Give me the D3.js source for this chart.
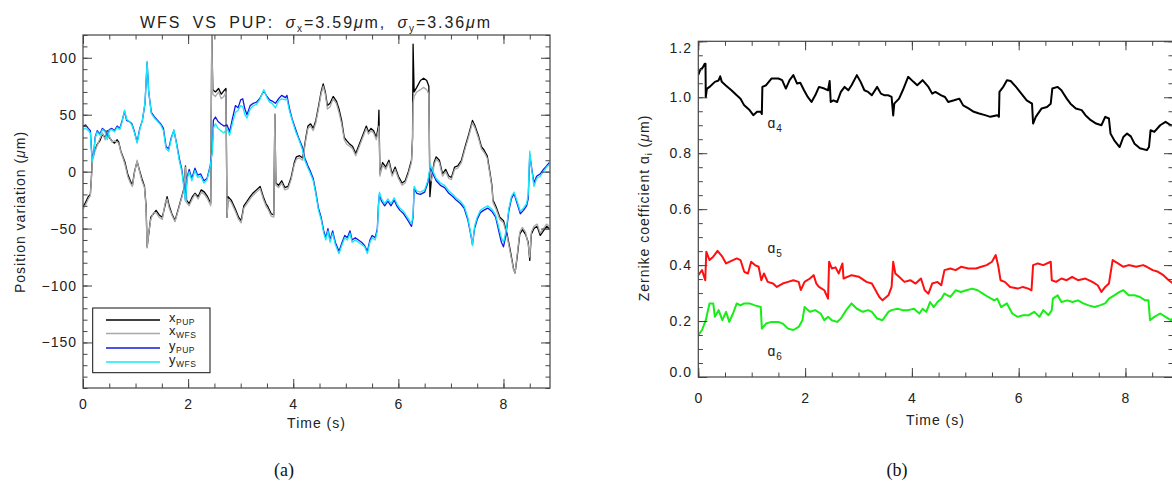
<!DOCTYPE html>
<html><head><meta charset="utf-8">
<script src="https://cdn.jsdelivr.net/npm/d3@7"></script>
<style>
body{margin:0;background:#fff;}
svg{display:block;font-family:"Liberation Sans",Arial,sans-serif;}
.lbl{font-size:14px;letter-spacing:1px;fill:#222;}
</style></head><body>
<svg id="c" width="1172" height="482"></svg>
<script>
// ---------- tick labels ----------
const xTicksA = [0, 2, 4, 6, 8];
const yTicksA = [-150, -100, -50, 0, 50, 100];
const xTicksB = [0, 2, 4, 6, 8];
const yTicksB = [0, 0.2, 0.4, 0.6, 0.8, 1.0, 1.2];
const legendNames = [["x", "PUP"], ["x", "WFS"], ["y", "PUP"], ["y", "WFS"]];
const zernikeNames = [["ɑ", "4"], ["ɑ", "5"], ["ɑ", "6"]];

// ---------- panel (a) series: [time s, position µm] ----------
const xPUP = [[0,-31],[0.05,-27],[0.1,-22],[0.14,-20],[0.16,-5],[0.18,13],[0.22,18],[0.27,24],[0.32,27],[0.37,33],[0.42,30],[0.46,36],[0.5,30],[0.55,27],[0.6,25],[0.65,28],[0.68,26],[0.72,18],[0.76,13],[0.8,8],[0.85,-2],[0.9,-8],[0.94,-12],[0.98,0],[1.03,9],[1.07,2],[1.12,-6],[1.17,-13],[1.2,-30],[1.22,-66],[1.25,-55],[1.29,-40],[1.34,-37],[1.39,-34],[1.45,-38],[1.51,-40],[1.56,-30],[1.6,-22],[1.64,-30],[1.69,-37],[1.75,-43],[1.8,-35],[1.86,-25],[1.92,-15],[1.95,5],[1.97,-25],[2.02,-28],[2.08,-22],[2.13,-19],[2.19,-22],[2.25,-16],[2.31,-18],[2.37,-22],[2.43,-28],[2.45,120],[2.47,72],[2.52,70],[2.58,73],[2.63,68],[2.68,71],[2.72,73],[2.74,-40],[2.76,-22],[2.82,-25],[2.9,-33],[2.96,-40],[3.01,-43],[3.06,-30],[3.12,-26],[3.18,-22],[3.23,-19],[3.3,-16],[3.37,-13],[3.43,-22],[3.48,-28],[3.52,-31],[3.58,-37],[3.63,-38],[3.65,50],[3.67,-10],[3.72,-12],[3.78,-8],[3.84,-14],[3.9,-13],[3.96,-5],[4.02,8],[4.06,13],[4.12,14],[4.18,12],[4.24,30],[4.28,40],[4.33,42],[4.38,38],[4.43,45],[4.48,57],[4.53,70],[4.57,77],[4.61,70],[4.65,58],[4.7,60],[4.76,66],[4.82,62],[4.87,55],[4.92,45],[4.97,30],[5.02,27],[5.08,24],[5.13,22],[5.19,16],[5.24,22],[5.29,28],[5.34,34],[5.39,40],[5.43,35],[5.48,38],[5.53,36],[5.58,30],[5.62,40],[5.63,54],[5.65,-2],[5.7,8],[5.76,4],[5.82,10],[5.88,-2],[5.94,4],[6.0,-4],[6.07,-10],[6.13,-8],[6.19,0],[6.25,10],[6.27,30],[6.28,112],[6.3,70],[6.35,74],[6.42,80],[6.48,82],[6.54,80],[6.58,75],[6.6,-22],[6.63,-6],[6.68,8],[6.72,13],[6.78,10],[6.84,-2],[6.9,2],[6.96,-4],[7.01,-5],[7.07,4],[7.13,5],[7.2,10],[7.27,22],[7.34,33],[7.41,45],[7.46,40],[7.52,32],[7.58,22],[7.63,19],[7.69,14],[7.74,0],[7.78,-12],[7.8,-25],[7.86,-31],[7.93,-40],[8.0,-43],[8.07,-55],[8.14,-72],[8.19,-85],[8.22,-89],[8.26,-75],[8.31,-55],[8.36,-51],[8.42,-55],[8.47,-62],[8.5,-78],[8.53,-55],[8.58,-50],[8.64,-48],[8.7,-56],[8.76,-52],[8.82,-48],[8.87,-50]];
const xWFS = [[0,-33],[0.05,-29],[0.1,-24],[0.14,-21],[0.16,-6],[0.18,12],[0.22,17],[0.27,23],[0.32,29],[0.37,34],[0.42,28],[0.46,35],[0.5,31],[0.55,26],[0.6,27],[0.65,26],[0.68,25],[0.72,17],[0.76,12],[0.8,6],[0.85,-4],[0.9,-10],[0.94,-13],[0.98,-1],[1.03,10],[1.07,1],[1.12,-8],[1.17,-14],[1.2,-32],[1.22,-67],[1.25,-54],[1.29,-42],[1.34,-36],[1.39,-36],[1.45,-40],[1.51,-42],[1.56,-28],[1.6,-24],[1.64,-32],[1.69,-38],[1.75,-44],[1.8,-36],[1.86,-26],[1.92,-16],[1.95,4],[1.97,-27],[2.02,-30],[2.08,-24],[2.13,-20],[2.19,-24],[2.25,-18],[2.31,-20],[2.37,-24],[2.43,-30],[2.45,120],[2.47,68],[2.52,66],[2.58,70],[2.63,64],[2.68,66],[2.72,70],[2.74,-40],[2.76,-24],[2.82,-27],[2.9,-35],[2.96,-42],[3.01,-45],[3.06,-32],[3.12,-28],[3.18,-24],[3.23,-21],[3.3,-18],[3.37,-15],[3.43,-24],[3.48,-30],[3.52,-33],[3.58,-39],[3.63,-40],[3.65,51],[3.67,-12],[3.72,-14],[3.78,-10],[3.84,-16],[3.9,-15],[3.96,-7],[4.02,6],[4.06,11],[4.12,12],[4.18,10],[4.24,28],[4.28,38],[4.33,40],[4.38,36],[4.43,43],[4.48,55],[4.53,68],[4.57,75],[4.61,68],[4.65,55],[4.7,57],[4.76,64],[4.82,60],[4.87,52],[4.92,42],[4.97,28],[5.02,24],[5.08,22],[5.13,20],[5.19,14],[5.24,20],[5.29,26],[5.34,32],[5.39,38],[5.43,33],[5.48,36],[5.53,34],[5.58,28],[5.62,36],[5.63,40],[5.65,-4],[5.7,6],[5.76,2],[5.82,8],[5.88,-4],[5.94,2],[6.0,-6],[6.07,-12],[6.13,-10],[6.19,-2],[6.25,8],[6.27,28],[6.28,60],[6.3,66],[6.35,70],[6.42,72],[6.48,74],[6.54,72],[6.58,68],[6.6,-5],[6.63,-8],[6.68,6],[6.72,11],[6.78,8],[6.84,-4],[6.9,0],[6.96,-6],[7.01,-7],[7.07,2],[7.13,3],[7.2,8],[7.27,20],[7.34,31],[7.41,43],[7.46,38],[7.52,30],[7.58,20],[7.63,17],[7.69,12],[7.74,-2],[7.78,-14],[7.8,-27],[7.86,-33],[7.93,-42],[8.0,-45],[8.07,-57],[8.14,-74],[8.19,-86],[8.22,-89],[8.26,-73],[8.31,-53],[8.36,-49],[8.42,-53],[8.47,-64],[8.5,-75],[8.53,-53],[8.58,-48],[8.64,-46],[8.7,-54],[8.76,-50],[8.82,-46],[8.87,-48]];
const yPUP = [[0,40],[0.05,41],[0.1,38],[0.14,36],[0.16,20],[0.18,11],[0.2,14],[0.23,30],[0.27,36],[0.32,33],[0.37,38],[0.42,36],[0.46,30],[0.5,37],[0.55,38],[0.6,36],[0.65,40],[0.7,38],[0.74,44],[0.79,53],[0.83,45],[0.88,44],[0.93,42],[0.98,35],[1.03,26],[1.08,38],[1.13,45],[1.18,60],[1.22,96],[1.25,70],[1.3,52],[1.36,48],[1.42,45],[1.48,42],[1.53,38],[1.58,22],[1.63,20],[1.68,30],[1.73,36],[1.78,25],[1.83,12],[1.88,2],[1.92,-12],[1.95,-25],[1.98,-5],[2.02,2],[2.07,-6],[2.13,3],[2.18,-3],[2.24,-2],[2.3,-8],[2.36,-6],[2.42,5],[2.46,19],[2.48,45],[2.52,48],[2.57,44],[2.62,42],[2.68,40],[2.74,41],[2.79,35],[2.84,46],[2.9,58],[2.95,56],[3.0,63],[3.04,64],[3.08,55],[3.12,50],[3.18,58],[3.24,60],[3.3,61],[3.36,64],[3.44,71],[3.5,66],[3.55,63],[3.6,62],[3.66,60],[3.72,64],[3.78,67],[3.85,65],[3.88,67],[3.93,55],[3.98,46],[4.04,38],[4.1,30],[4.17,22],[4.22,12],[4.28,5],[4.32,1],[4.38,-6],[4.43,-18],[4.48,-32],[4.53,-40],[4.58,-52],[4.62,-58],[4.66,-50],[4.7,-60],[4.75,-52],[4.8,-62],[4.87,-70],[4.93,-62],[4.98,-56],[5.03,-58],[5.08,-52],[5.12,-60],[5.18,-58],[5.24,-60],[5.3,-62],[5.36,-65],[5.41,-70],[5.46,-60],[5.5,-56],[5.56,-58],[5.6,-50],[5.62,-30],[5.64,-20],[5.68,-26],[5.74,-30],[5.8,-26],[5.86,-30],[5.92,-25],[5.97,-30],[6.03,-34],[6.1,-37],[6.17,-42],[6.25,-48],[6.28,-40],[6.3,-15],[6.35,-19],[6.42,-20],[6.5,-18],[6.56,-10],[6.61,4],[6.66,-2],[6.72,-8],[6.8,-12],[6.88,-14],[6.96,-19],[7.04,-22],[7.1,-25],[7.18,-28],[7.25,-32],[7.32,-42],[7.38,-56],[7.41,-64],[7.45,-50],[7.5,-42],[7.56,-36],[7.62,-34],[7.7,-32],[7.78,-35],[7.85,-40],[7.9,-50],[7.96,-62],[8.0,-66],[8.05,-55],[8.1,-35],[8.15,-24],[8.2,-19],[8.26,-28],[8.32,-37],[8.38,-34],[8.44,-30],[8.47,-24],[8.5,15],[8.53,5],[8.58,-10],[8.63,-4],[8.7,-2],[8.76,2],[8.82,5],[8.87,8]];
const yWFS = [[0,37],[0.05,38],[0.1,36],[0.14,34],[0.16,18],[0.18,10],[0.2,13],[0.23,29],[0.27,35],[0.32,32],[0.37,37],[0.42,35],[0.46,28],[0.5,36],[0.55,37],[0.6,35],[0.65,39],[0.7,37],[0.74,43],[0.79,54],[0.83,46],[0.88,44],[0.93,41],[0.98,34],[1.03,25],[1.08,37],[1.13,45],[1.18,61],[1.22,97],[1.25,70],[1.3,51],[1.36,47],[1.42,44],[1.48,41],[1.53,36],[1.58,20],[1.63,18],[1.68,29],[1.73,37],[1.78,24],[1.83,10],[1.88,0],[1.92,-14],[1.95,-26],[1.98,-7],[2.02,0],[2.07,-8],[2.13,1],[2.18,-5],[2.24,-4],[2.3,-10],[2.36,-7],[2.42,4],[2.46,18],[2.48,38],[2.52,42],[2.57,38],[2.62,36],[2.68,34],[2.74,38],[2.79,32],[2.84,42],[2.9,52],[2.95,54],[3.0,58],[3.04,57],[3.08,50],[3.12,47],[3.18,55],[3.24,58],[3.3,59],[3.36,63],[3.44,72],[3.5,65],[3.55,61],[3.6,60],[3.66,56],[3.72,62],[3.78,64],[3.85,63],[3.88,64],[3.93,53],[3.98,45],[4.04,36],[4.1,29],[4.17,20],[4.22,10],[4.28,3],[4.32,-1],[4.38,-8],[4.43,-20],[4.48,-34],[4.53,-42],[4.58,-54],[4.62,-60],[4.66,-52],[4.7,-62],[4.75,-54],[4.8,-64],[4.87,-72],[4.93,-64],[4.98,-58],[5.03,-60],[5.08,-54],[5.12,-62],[5.18,-60],[5.24,-62],[5.3,-64],[5.36,-66],[5.41,-72],[5.46,-62],[5.5,-58],[5.56,-60],[5.6,-52],[5.62,-32],[5.64,-18],[5.68,-24],[5.74,-28],[5.8,-24],[5.86,-28],[5.92,-23],[5.97,-28],[6.03,-32],[6.1,-35],[6.17,-40],[6.25,-46],[6.28,-38],[6.3,-13],[6.35,-17],[6.42,-18],[6.5,-16],[6.56,-8],[6.61,6],[6.66,0],[6.72,-6],[6.8,-10],[6.88,-12],[6.96,-17],[7.04,-20],[7.1,-23],[7.18,-26],[7.25,-30],[7.32,-40],[7.38,-55],[7.41,-65],[7.45,-48],[7.5,-40],[7.56,-34],[7.62,-32],[7.7,-30],[7.78,-33],[7.85,-38],[7.9,-47],[7.96,-58],[8.0,-62],[8.05,-52],[8.1,-33],[8.15,-22],[8.2,-18],[8.26,-26],[8.32,-35],[8.38,-32],[8.44,-28],[8.47,-20],[8.5,18],[8.53,4],[8.58,-13],[8.63,-6],[8.7,-4],[8.76,0],[8.82,4],[8.87,6]];

// ---------- panel (b) series: [time s, coefficient µm] ----------
const a4 = [[0,1.08],[0.04,1.10],[0.08,1.105],[0.12,1.12],[0.135,1.12],[0.14,1.00],[0.16,1.03],[0.21,1.037],[0.31,1.055],[0.38,1.06],[0.41,1.075],[0.44,1.055],[0.51,1.043],[0.62,1.025],[0.72,1.007],[0.79,0.995],[0.86,0.971],[0.96,0.954],[1.03,0.936],[1.1,0.948],[1.17,0.948],[1.19,0.94],[1.2,1.037],[1.27,1.043],[1.37,1.067],[1.5,1.067],[1.57,1.061],[1.64,1.031],[1.71,1.061],[1.78,1.079],[1.85,1.049],[1.91,1.052],[1.98,1.025],[2.05,1.001],[2.12,0.983],[2.19,1.007],[2.26,1.037],[2.36,1.031],[2.43,1.025],[2.46,1.058],[2.48,0.983],[2.53,0.989],[2.6,0.983],[2.67,1.019],[2.74,1.037],[2.81,1.025],[2.87,1.043],[2.97,1.079],[3.04,1.055],[3.11,1.025],[3.18,1.019],[3.25,1.007],[3.35,1.037],[3.42,1.013],[3.49,1.007],[3.56,1.007],[3.62,1.001],[3.65,0.935],[3.67,0.977],[3.76,0.995],[3.83,1.025],[3.93,1.073],[4.03,1.055],[4.1,1.043],[4.2,1.061],[4.31,1.037],[4.38,1.013],[4.44,1.019],[4.55,1.007],[4.62,1.001],[4.68,0.983],[4.79,0.989],[4.89,0.995],[4.96,0.971],[5.06,0.96],[5.16,0.948],[5.26,0.942],[5.37,0.936],[5.47,0.93],[5.6,0.936],[5.63,0.93],[5.64,1.019],[5.71,1.037],[5.78,1.061],[5.85,1.058],[5.95,1.037],[6.05,1.013],[6.15,0.989],[6.25,0.977],[6.27,0.906],[6.32,0.93],[6.43,0.96],[6.53,0.965],[6.6,0.977],[6.63,1.031],[6.73,1.037],[6.8,1.025],[6.9,0.995],[6.97,0.977],[7.07,0.96],[7.18,0.954],[7.25,0.936],[7.35,0.918],[7.45,0.906],[7.55,0.9],[7.62,0.93],[7.69,0.924],[7.72,0.87],[7.79,0.846],[7.89,0.822],[7.96,0.858],[8.03,0.87],[8.1,0.86],[8.17,0.834],[8.27,0.818],[8.4,0.811],[8.44,0.822],[8.47,0.882],[8.54,0.876],[8.65,0.9],[8.75,0.912],[8.85,0.9],[8.89,0.9]];
const a5 = [[0,0.364],[0.07,0.382],[0.13,0.346],[0.15,0.448],[0.21,0.418],[0.28,0.43],[0.36,0.451],[0.45,0.43],[0.52,0.406],[0.62,0.415],[0.72,0.424],[0.79,0.418],[0.86,0.376],[0.93,0.37],[0.99,0.412],[1.06,0.4],[1.13,0.394],[1.18,0.346],[1.23,0.37],[1.3,0.34],[1.4,0.334],[1.47,0.322],[1.58,0.334],[1.68,0.34],[1.78,0.346],[1.88,0.34],[1.92,0.311],[1.99,0.34],[2.09,0.352],[2.16,0.364],[2.21,0.334],[2.26,0.322],[2.36,0.31],[2.43,0.28],[2.45,0.412],[2.5,0.388],[2.57,0.392],[2.63,0.37],[2.7,0.406],[2.72,0.352],[2.87,0.364],[3.01,0.358],[3.15,0.34],[3.25,0.334],[3.32,0.31],[3.39,0.286],[3.45,0.274],[3.56,0.292],[3.62,0.322],[3.65,0.412],[3.69,0.37],[3.76,0.358],[3.86,0.34],[3.97,0.346],[4.07,0.334],[4.17,0.352],[4.24,0.31],[4.31,0.298],[4.38,0.334],[4.48,0.34],[4.55,0.328],[4.61,0.382],[4.72,0.388],[4.82,0.382],[4.92,0.394],[5.06,0.388],[5.2,0.388],[5.3,0.394],[5.4,0.4],[5.5,0.412],[5.57,0.436],[5.62,0.394],[5.66,0.346],[5.74,0.34],[5.84,0.322],[5.98,0.316],[6.08,0.322],[6.18,0.316],[6.24,0.31],[6.27,0.4],[6.36,0.406],[6.46,0.4],[6.6,0.412],[6.62,0.346],[6.7,0.34],[6.8,0.352],[6.9,0.346],[7.0,0.358],[7.11,0.346],[7.25,0.352],[7.38,0.34],[7.48,0.328],[7.55,0.304],[7.62,0.322],[7.69,0.334],[7.76,0.418],[7.86,0.406],[7.96,0.394],[8.06,0.4],[8.2,0.394],[8.33,0.4],[8.4,0.394],[8.51,0.382],[8.61,0.376],[8.71,0.364],[8.81,0.346],[8.89,0.334]];
const a6 = [[0,0.15],[0.07,0.168],[0.14,0.203],[0.21,0.263],[0.28,0.263],[0.31,0.215],[0.38,0.239],[0.45,0.203],[0.52,0.233],[0.58,0.197],[0.65,0.227],[0.72,0.263],[0.79,0.256],[0.86,0.263],[0.96,0.263],[1.06,0.256],[1.17,0.25],[1.19,0.173],[1.27,0.191],[1.37,0.197],[1.5,0.197],[1.58,0.191],[1.68,0.173],[1.78,0.168],[1.88,0.179],[1.95,0.203],[1.99,0.25],[2.09,0.233],[2.19,0.239],[2.29,0.227],[2.36,0.203],[2.43,0.215],[2.5,0.203],[2.6,0.197],[2.67,0.209],[2.77,0.239],[2.87,0.263],[2.97,0.244],[3.08,0.233],[3.18,0.239],[3.25,0.233],[3.35,0.209],[3.45,0.203],[3.56,0.233],[3.62,0.239],[3.73,0.244],[3.83,0.239],[3.93,0.239],[4.04,0.244],[4.14,0.227],[4.2,0.244],[4.27,0.233],[4.34,0.268],[4.41,0.25],[4.48,0.268],[4.55,0.28],[4.61,0.298],[4.72,0.286],[4.82,0.31],[4.92,0.304],[5.02,0.31],[5.13,0.316],[5.23,0.31],[5.33,0.298],[5.43,0.286],[5.54,0.274],[5.6,0.28],[5.67,0.25],[5.78,0.263],[5.88,0.227],[5.98,0.215],[6.08,0.221],[6.19,0.221],[6.29,0.233],[6.39,0.215],[6.46,0.239],[6.56,0.221],[6.62,0.239],[6.64,0.28],[6.73,0.292],[6.8,0.268],[6.91,0.274],[7.01,0.268],[7.11,0.274],[7.21,0.263],[7.31,0.256],[7.42,0.25],[7.52,0.256],[7.62,0.263],[7.69,0.28],[7.79,0.292],[7.89,0.304],[7.96,0.31],[8.06,0.292],[8.17,0.292],[8.27,0.286],[8.37,0.274],[8.43,0.274],[8.46,0.203],[8.54,0.215],[8.65,0.227],[8.75,0.215],[8.85,0.203],[8.89,0.21]];

// ---------- drawing ----------
const svg = d3.select("#c");
const AX = "#444";

const xA = d3.scaleLinear().domain([0, 8.885]).range([83, 550]);
const yA = d3.scaleLinear().domain([-190, 120]).range([388, 35]);
const xB = d3.scaleLinear().domain([0, 8.89]).range([698.3, 1173]);
const yB = d3.scaleLinear().domain([0, 1.2]).range([377, 41.3]);

function styleAxis(g) {
  g.select(".domain").remove();
  g.attr("font-size", null).attr("font-family", null).attr("color", AX);
  g.selectAll("line").attr("stroke-width", 1);
  g.selectAll("text").attr("class", "lbl").attr("fill", "#222");
}

function frame(x, y, xMaj, xMin, yMaj, yMin, yFmt, padB, padL) {
  const [x0, x1] = x.range(), [y0, y1] = y.range();
  const g = svg.append("g");
  g.append("g").attr("transform", `translate(0,${y0})`)
    .call(d3.axisBottom(x).tickValues(xMaj).tickSize(-9).tickPadding(padB).tickFormat(d3.format("d"))).call(styleAxis);
  g.append("g").attr("transform", `translate(0,${y0})`)
    .call(d3.axisBottom(x).tickValues(xMin).tickSize(-4.5).tickFormat("")).call(styleAxis);
  g.append("g").attr("transform", `translate(0,${y1})`)
    .call(d3.axisTop(x).tickValues(xMaj).tickSize(-9).tickFormat("")).call(styleAxis);
  g.append("g").attr("transform", `translate(0,${y1})`)
    .call(d3.axisTop(x).tickValues(xMin).tickSize(-4.5).tickFormat("")).call(styleAxis);
  const left = g.append("g").attr("transform", `translate(${x0},0)`)
    .call(d3.axisLeft(y).tickValues(yMaj).tickSize(-9).tickPadding(padL).tickFormat(yFmt)).call(styleAxis);
  g.append("g").attr("transform", `translate(${x0},0)`)
    .call(d3.axisLeft(y).tickValues(yMin).tickSize(-4.5).tickFormat("")).call(styleAxis);
  g.append("g").attr("transform", `translate(${x1},0)`)
    .call(d3.axisRight(y).tickValues(yMaj).tickSize(-9).tickFormat("")).call(styleAxis);
  g.append("g").attr("transform", `translate(${x1},0)`)
    .call(d3.axisRight(y).tickValues(yMin).tickSize(-4.5).tickFormat("")).call(styleAxis);
  g.append("rect").attr("x", x0).attr("y", y1).attr("width", x1 - x0).attr("height", y0 - y1)
    .attr("fill", "none").attr("stroke", AX).attr("stroke-width", 1.2);
  return left;
}

function drawLine(x, y, data, color, w, clipId) {
  const line = d3.line().x(d => x(d[0])).y(d => y(d[1]));
  svg.append("path").datum(data).attr("d", line)
    .attr("fill", "none").attr("stroke", color).attr("stroke-width", w)
    .attr("stroke-linejoin", "round").attr("clip-path", `url(#${clipId})`);
}

const defs = svg.append("defs");
function clip(id, x, y) {
  defs.append("clipPath").attr("id", id).append("rect")
    .attr("x", x.range()[0]).attr("y", y.range()[1])
    .attr("width", x.range()[1] - x.range()[0]).attr("height", y.range()[0] - y.range()[1]);
}
clip("clipA", xA, yA);
clip("clipB", xB, yB);

// ----- panel (a) -----
const colorsA = ["#000000", "#a9a9a9", "#1414e6", "#12eaf8"];
const seriesA = [xPUP, xWFS, yPUP, yWFS];
seriesA.forEach((s, i) => drawLine(xA, yA, s, colorsA[i], 1.3, "clipA"));

frame(xA, yA, xTicksA, d3.range(0, 8.9, 0.5), yTicksA, d3.range(-190, 121, 10),
      d3.format("d"), 11.5, 6);

// title
const title = svg.append("text").attr("x", 316).attr("y", 28.3).attr("text-anchor", "middle")
  .attr("font-size", 16).attr("fill", "#222").style("letter-spacing", "1.9px").style("word-spacing", "5px");
title.append("tspan").text("WFS VS PUP: ");
title.append("tspan").attr("font-style", "italic").text("σ");
title.append("tspan").attr("font-size", 10).attr("dy", 4).text("x");
title.append("tspan").attr("dy", -4).text("=3.59");
title.append("tspan").attr("font-style", "italic").text("μ");
title.append("tspan").text("m, ");
title.append("tspan").attr("font-style", "italic").text("σ");
title.append("tspan").attr("font-size", 10).attr("dy", 4).text("y");
title.append("tspan").attr("dy", -4).text("=3.36");
title.append("tspan").attr("font-style", "italic").text("μ");
title.append("tspan").text("m");

// y label (a)
const ylA = svg.append("text").attr("class", "lbl").attr("text-anchor", "middle")
  .attr("transform", "translate(25,212) rotate(-90)");
ylA.append("tspan").text("Position variation (");
ylA.append("tspan").attr("font-style", "italic").text("μ");
ylA.append("tspan").text("m)");

svg.append("text").attr("class", "lbl").attr("text-anchor", "middle")
  .attr("x", 316.5).attr("y", 428).text("Time (s)");

// legend
const lg = svg.append("g");
lg.append("rect").attr("x", 92.7).attr("y", 308).attr("width", 117.3).attr("height", 64.7)
  .attr("fill", "#fff").attr("stroke", "#111").attr("stroke-width", 1);
const rowY = [320, 333.5, 348, 362];
legendNames.forEach((nm, i) => {
  lg.append("line").attr("x1", 106).attr("x2", 160).attr("y1", rowY[i]).attr("y2", rowY[i])
    .attr("stroke", colorsA[i]).attr("stroke-width", 1.4);
  const t = lg.append("text").attr("x", 169).attr("y", rowY[i] + 1.5).attr("fill", "#222")
    .attr("font-size", 13).style("letter-spacing", "0.5px");
  t.append("tspan").text(nm[0]);
  t.append("tspan").attr("font-size", 8.5).attr("dy", 3).text(nm[1]);
});

svg.append("text").attr("x", 284).attr("y", 476).attr("text-anchor", "middle")
  .attr("font-family", "'Liberation Serif','Times New Roman',serif").attr("font-size", 18)
  .attr("fill", "#111").text("(a)");

// ----- panel (b) -----
const colorsB = ["#000000", "#ff1010", "#16ee16"];
[a4, a5, a6].forEach((s, i) => drawLine(xB, yB, s, colorsB[i], 2.0, "clipB"));

const leftB = frame(xB, yB, xTicksB, d3.range(0, 8.9, 0.5), yTicksB, d3.range(0, 1.201, 0.05),
      d3.format(".1f"), 16.5, 6.3);
leftB.selectAll(".tick").filter(d => Math.abs(d - 1.2) < 1e-6).select("text").attr("transform", "translate(0,6.5)");
leftB.selectAll(".tick").filter(d => Math.abs(d) < 1e-6).select("text").attr("transform", "translate(0,-4.5)");

const ylB = svg.append("text").attr("class", "lbl").attr("text-anchor", "middle")
  .attr("transform", "translate(649,208) rotate(-90)");
ylB.append("tspan").text("Zernike coefficient ");
ylB.append("tspan").text("ɑ");
ylB.append("tspan").attr("font-size", 9).attr("dy", 3).text("i");
ylB.append("tspan").attr("dy", -3).text(" (");
ylB.append("tspan").attr("font-style", "italic").text("μ");
ylB.append("tspan").text("m)");

svg.append("text").attr("class", "lbl").attr("text-anchor", "middle")
  .attr("x", 935.5).attr("y", 425).text("Time (s)");

const zBase = [128.3, 253.3, 356];
zernikeNames.forEach((nm, i) => {
  const t = svg.append("text").attr("x", 767.5).attr("y", zBase[i]).attr("class", "lbl");
  t.append("tspan").text(nm[0]);
  t.append("tspan").attr("font-size", 10).attr("dy", 4).text(nm[1]);
});

svg.append("text").attr("x", 897).attr("y", 476).attr("text-anchor", "middle")
  .attr("font-family", "'Liberation Serif','Times New Roman',serif").attr("font-size", 18)
  .attr("fill", "#111").text("(b)");
</script>
</body></html>
